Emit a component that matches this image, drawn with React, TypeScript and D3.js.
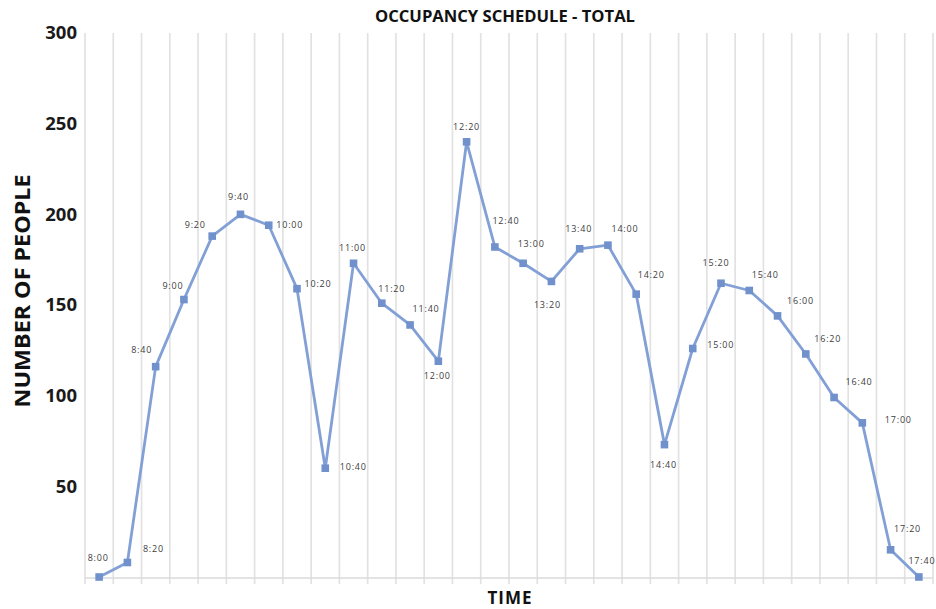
import React from "react";
import * as d3 from "d3";

const TIMES = [
  "8:00", "8:20", "8:40", "9:00", "9:20", "9:40", "10:00", "10:20", "10:40", "11:00",
  "11:20", "11:40", "12:00", "12:20", "12:40", "13:00", "13:20", "13:40", "14:00", "14:20",
  "14:40", "15:00", "15:20", "15:40", "16:00", "16:20", "16:40", "17:00", "17:20", "17:40",
];
const PEOPLE = [
  0, 8, 116, 153, 188, 200, 194, 159, 60, 173,
  151, 139, 119, 240, 182, 173, 163, 181, 183, 156,
  73, 126, 162, 158, 144, 123, 99, 85, 15, 0,
];
const Y_TICKS = [50, 100, 150, 200, 250, 300];
const TITLE = "OCCUPANCY SCHEDULE - TOTAL";
const X_TITLE = "TIME";
const Y_TITLE = "NUMBER OF PEOPLE";

// label placement relative to the point (layout only)
const LABEL_OFFSETS: [number, number][] = [
  [-1, -19], [26, -14], [-14, -17], [-11, -14], [-17, -11], [-2, -17], [21, 0], [21, -5], [28, -1], [-1, -15],
  [10, -14], [16, -16], [-1, 15], [0, -15], [11, -26], [8, -19], [-4, 23], [-1, -20], [17, -16], [15, -19],
  [-1, 20], [28, -4], [-5, -20], [16, -16], [23, -15], [22, -15], [25, -16], [36, -3], [17, -21], [3, -16],
];

const W = 936;
const H = 609;
const LEFT = 85;
const RIGHT = 933;
const TOP = 33;
const BASE = 577;

export default function App() {
  const x = d3.scaleBand<string>().domain(TIMES).range([LEFT, RIGHT]).padding(0);
  const y = d3.scaleLinear().domain([0, 300]).range([BASE, TOP]);
  const step = x.step();
  const edges = d3.range(TIMES.length + 1).map((i) => LEFT + i * step);
  const cx = (t: string) => (x(t) as number) + step / 2;
  const line = d3
    .line<number>()
    .x((_, i) => cx(TIMES[i]))
    .y((d) => y(d));
  const lineColor = "#82a0d6";
  const markerColor = "#7191cc";
  const font = "'Open Sans', 'DejaVu Sans', sans-serif";

  return (
    <svg
      width={W}
      height={H}
      style={{ position: "fixed", left: 0, top: 0, background: "#fff" }}
      fontFamily={font}
    >
      <rect x={0} y={0} width={W} height={H} fill="#fff" />
      {/* vertical gridlines */}
      {edges.map((ex, i) => (
        <line key={"g" + i} x1={ex} x2={ex} y1={TOP} y2={BASE + 7} stroke="#e2e2e2" strokeWidth={1.7} />
      ))}
      {/* baseline */}
      <line x1={LEFT} x2={RIGHT} y1={BASE + 1} y2={BASE + 1} stroke="#dadada" strokeWidth={1.6} />

      {/* y tick labels */}
      {Y_TICKS.map((t) => (
        <text
          key={"y" + t}
          x={77}
          y={y(t)}
          dy="0.35em"
          textAnchor="end"
          fontSize={18.5}
          fontWeight={700}
          fill="#1a1a1a"
        >
          {t}
        </text>
      ))}

      {/* series line */}
      <path d={line(PEOPLE) || ""} fill="none" stroke={lineColor} strokeWidth={2.8} strokeLinejoin="round" />
      {PEOPLE.map((v, i) => (
        <rect
          key={"m" + i}
          x={cx(TIMES[i]) - 3.8}
          y={y(v) - 3.8}
          width={7.6}
          height={7.6}
          fill={markerColor}
        />
      ))}

      {/* data labels */}
      {PEOPLE.map((v, i) => (
        <text
          key={"l" + i}
          x={cx(TIMES[i]) + LABEL_OFFSETS[i][0]}
          y={y(v) + LABEL_OFFSETS[i][1]}
          dy="0.35em"
          textAnchor="middle"
          fontSize={9}
          letterSpacing={0.8}
          fill="#404040"
        >
          {TIMES[i]}
        </text>
      ))}

      {/* titles */}
      <text
        x={505}
        y={16}
        dy="0.35em"
        textAnchor="middle"
        fontSize={16.5}
        fontWeight={700}
        fill="#111"
        textLength={260}
        lengthAdjust="spacingAndGlyphs"
      >
        {TITLE}
      </text>
      <text
        x={510}
        y={598}
        dy="0.35em"
        textAnchor="middle"
        fontSize={17}
        fontWeight={700}
        fill="#111"
        letterSpacing={1}
      >
        {X_TITLE}
      </text>
      <text
        transform={`translate(23, 291) rotate(-90)`}
        dy="0.35em"
        textAnchor="middle"
        fontSize={21}
        fontWeight={700}
        fill="#111"
        textLength={233}
        lengthAdjust="spacingAndGlyphs"
      >
        {Y_TITLE}
      </text>
    </svg>
  );
}
